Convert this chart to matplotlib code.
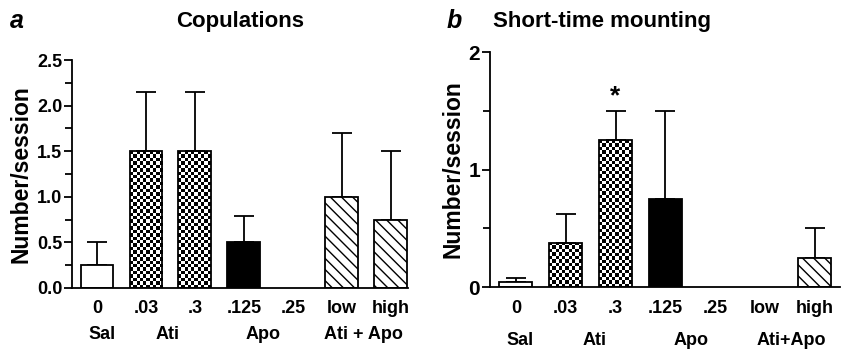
import numpy as np
import matplotlib
matplotlib.use('Agg')
import matplotlib.pyplot as plt

plt.rcParams['font.family'] = ['Liberation Sans', 'DejaVu Sans']
plt.rcParams['font.weight'] = 'bold'
plt.rcParams['hatch.linewidth'] = 1.0

doses = ['0', '.03', '.3', '.125', '.25', 'low', 'high']
styles = ['open', 'check', 'check', 'solid', 'solid', 'diag', 'diag']

cop_mean = [0.25, 1.5, 1.5, 0.5, 0.0, 1.0, 0.75]
cop_sem = [0.25, 0.65, 0.65, 0.29, 0.0, 0.7, 0.75]

mount_mean = [0.04, 0.375, 1.25, 0.75, 0.0, 0.0, 0.25]
mount_sem = [0.04, 0.245, 0.25, 0.75, 0.0, 0.0, 0.25]

groups_a = ['Sal', 'Ati', 'Apo', 'Ati + Apo']
groups_b = ['Sal', 'Ati', 'Apo', 'Ati+Apo']
group_pos = [0.1, 1.45, 3.4, 5.45]
group_pos_b = [0.08, 1.58, 3.52, 5.52]

fig = plt.figure(figsize=(8.41, 3.51), dpi=100)
axa = fig.add_axes([0.0856, 0.1795, 0.3994, 0.6495])
axb = fig.add_axes([0.5826, 0.182, 0.416, 0.6695])


def checker(ax, bar, cell=3.4):
    # checkerboard fill, clipped to the bar
    x0, y0 = bar.get_x(), bar.get_y()
    w, h = bar.get_width(), bar.get_height()
    if h <= 0:
        return
    p0 = ax.transData.transform((x0, y0))
    p1 = ax.transData.transform((x0 + w, y0 + h))
    nx = max(1, int(round(abs(p1[0] - p0[0]) / cell)))
    ny = max(1, int(round(abs(p1[1] - p0[1]) / cell)))
    img = (np.add.outer(np.arange(ny), np.arange(nx)) % 2).astype(float)
    im = ax.imshow(img, cmap='gray', extent=(x0, x0 + w, y0, y0 + h),
                   aspect='auto', interpolation='nearest', zorder=1, vmin=0, vmax=1)
    im.set_clip_path(bar)


def panel(ax, means, sems, width, xlim, ylim, yticks, yminor, ylabels,
          groups, gpos, yfs, gy):
    x = np.arange(len(means))
    ax.set_xlim(*xlim)
    ax.set_ylim(*ylim)
    bars = ax.bar(x, means, width=width, color='white', edgecolor='black',
                  linewidth=1.3, zorder=2)
    for b, s, m in zip(bars, styles, means):
        if m <= 0:
            b.set_visible(False)
            continue
        if s == 'solid':
            b.set_facecolor('black')
        elif s == 'diag':
            b.set_hatch('\\' * 3)
        elif s == 'check':
            b.set_facecolor('none')
            checker(ax, b)
    m = np.array(means)
    e = np.array(sems)
    keep = m > 0
    ax.errorbar(x[keep], m[keep], yerr=[np.zeros(keep.sum()), e[keep]], fmt='none',
                ecolor='black', elinewidth=1.3, capsize=7.5, capthick=1.3, zorder=1.5)
    for sp in ['top', 'right']:
        ax.spines[sp].set_visible(False)
    for sp in ['left', 'bottom']:
        ax.spines[sp].set_linewidth(1.3)
    ax.set_yticks(yticks)
    ax.set_yticklabels(ylabels, fontsize=yfs, fontweight='bold')
    ax.set_yticks(yminor, minor=True)
    ax.tick_params(axis='y', which='major', length=6, width=1.3, pad=1)
    ax.tick_params(axis='y', which='minor', length=5, width=1.3)
    ax.set_xticks(x)
    ax.set_xticklabels(doses, fontsize=13, fontweight='bold')
    ax.tick_params(axis='x', length=0, pad=9)
    ax.set_ylabel('Number/session', fontsize=16.5, fontweight='bold', labelpad=3)
    for g, p in zip(groups, gpos):
        ax.text(p, gy, g, transform=ax.get_xaxis_transform(), ha='center',
                va='top', fontsize=13, fontweight='bold')


panel(axa, cop_mean, cop_sem, 0.67, (-0.51, 6.35), (0, 2.5),
      [0, 0.5, 1.0, 1.5, 2.0, 2.5], np.arange(0.25, 2.5, 0.5),
      ['0.0', '0.5', '1.0', '1.5', '2.0', '2.5'], groups_a, group_pos, 13, -0.165)
panel(axb, mount_mean, mount_sem, 0.66, (-0.52, 6.5), (0, 2),
      [0, 1, 2], [0.5, 1.5], ['0', '1', '2'], groups_b, group_pos_b, 15, -0.19)

axb.text(2, mount_mean[2] + mount_sem[2] + 0.02, '*', ha='center', va='bottom',
         fontsize=19, fontweight='bold')

fig.text(0.285, 0.94, 'Copulations', ha='center', va='center', fontsize=16, fontweight='bold')
fig.text(0.716, 0.94, 'Short-time mounting', ha='center', va='center', fontsize=16, fontweight='bold')
fig.text(0.012, 0.94, 'a', ha='left', va='center', fontsize=18, fontweight='bold', style='italic')
fig.text(0.531, 0.94, 'b', ha='left', va='center', fontsize=18, fontweight='bold', style='italic')

fig.savefig('out.png', dpi=100)
